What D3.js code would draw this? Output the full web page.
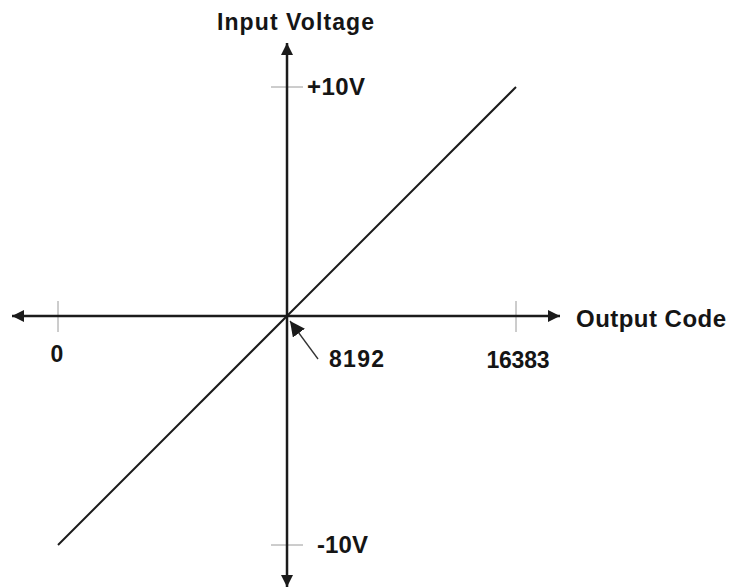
<!DOCTYPE html>
<html><head><meta charset="utf-8">
<script src="https://cdn.jsdelivr.net/npm/d3@7"></script>
<style>html,body{margin:0;padding:0;background:#fff;}</style>
</head><body>
<svg id="c" width="729" height="588"></svg>
<script>
const codeDomain = [0, 16383];
const voltDomain = [-10, 10];
const transferCodes = [0, 16383];
const transferVolts = [-10, 10];
const xTicks = [0, 16383];
const xTickLabels = ["0", "16383"];
const yTicks = [10, -10];
const yTickLabels = ["+10V", "-10V"];
const midCode = 8192;
const midLabel = "8192";
const xTitle = "Output Code";
const yTitle = "Input Voltage";

const svg = d3.select("#c");
const x = d3.scaleLinear().domain(codeDomain).range([58, 516]);
const y = d3.scaleLinear().domain(voltDomain).range([545, 87]);
const x0 = x(midCode), y0 = y(0);
const ink = "#1b1b1b";
const font = "'Liberation Sans', Arial, sans-serif";

const defs = svg.append("defs");
defs.append("marker").attr("id","ah").attr("viewBox","0 0 10 10").attr("refX",10).attr("refY",5)
  .attr("markerWidth",12).attr("markerHeight",12).attr("markerUnits","userSpaceOnUse")
  .attr("orient","auto").append("path").attr("d","M0,0L10,5L0,10Z").attr("fill",ink);
defs.append("marker").attr("id","ah2").attr("viewBox","0 0 10 10").attr("refX",10).attr("refY",5)
  .attr("markerWidth",15).attr("markerHeight",15).attr("markerUnits","userSpaceOnUse")
  .attr("orient","auto").append("path").attr("d","M0,0L10,5L0,10Z").attr("fill",ink);

// ticks (thin gray)
svg.selectAll(".xt").data(xTicks).enter().append("line")
  .attr("x1",d=>x(d)).attr("x2",d=>x(d)).attr("y1",y0-15).attr("y2",y0+16)
  .attr("stroke","#9a9a9a").attr("stroke-width",1);
svg.selectAll(".yt").data(yTicks).enter().append("line")
  .attr("y1",d=>y(d)).attr("y2",d=>y(d)).attr("x1",x0-16).attr("x2",x0+16)
  .attr("stroke","#9a9a9a").attr("stroke-width",1);

// axes with arrows
svg.append("line").attr("x1",x0).attr("y1",y0).attr("x2",x.range()[0]-46).attr("y2",y0)
  .attr("stroke",ink).attr("stroke-width",2.5).attr("marker-end","url(#ah)");
svg.append("line").attr("x1",x0).attr("y1",y0).attr("x2",x.range()[1]+44).attr("y2",y0)
  .attr("stroke",ink).attr("stroke-width",2.5).attr("marker-end","url(#ah)");
svg.append("line").attr("x1",x0).attr("y1",y0).attr("x2",x0).attr("y2",y.range()[1]-44)
  .attr("stroke",ink).attr("stroke-width",2.5).attr("marker-end","url(#ah)");
svg.append("line").attr("x1",x0).attr("y1",y0).attr("x2",x0).attr("y2",y.range()[0]+42)
  .attr("stroke",ink).attr("stroke-width",2.5).attr("marker-end","url(#ah)");

// transfer line
const pts = transferCodes.map((c,i)=>[c, transferVolts[i]]);
svg.append("path").datum(pts)
  .attr("d", d3.line().x(d=>x(d[0])).y(d=>y(d[1])))
  .attr("fill","none").attr("stroke",ink).attr("stroke-width",2);

// 8192 pointer
svg.append("line").attr("x1",x0+31).attr("y1",y0+43).attr("x2",x0+3).attr("y2",y0+5)
  .attr("stroke","#333").attr("stroke-width",1.3).attr("marker-end","url(#ah2)");

function txt(s, xx, yy, len, anchor, size){
  svg.append("text").attr("x",xx).attr("y",yy).attr("text-anchor",anchor||"start")
    .attr("font-family",font).attr("font-weight","bold").attr("font-size",size||20)
    .attr("fill","#151515").attr("textLength",len).attr("lengthAdjust","spacing").text(s);
}
txt(xTickLabels[0], x(xTicks[0])-1, 362, 11, "middle", 23);
txt(xTickLabels[1], x(xTicks[1])+2, 368, 63, "middle", 23);
txt(midLabel, x0+42, 367, 55, "start", 23);
txt(yTickLabels[0], x0+20, 95, 58, "start", 24);
txt(yTickLabels[1], x0+30, 553, 51, "start", 24);
txt(xTitle, x.range()[1]+60, 327, 150, "start", 24);
txt(yTitle, x0-70, 30, 157, "start", 23);
</script>
</body></html>
